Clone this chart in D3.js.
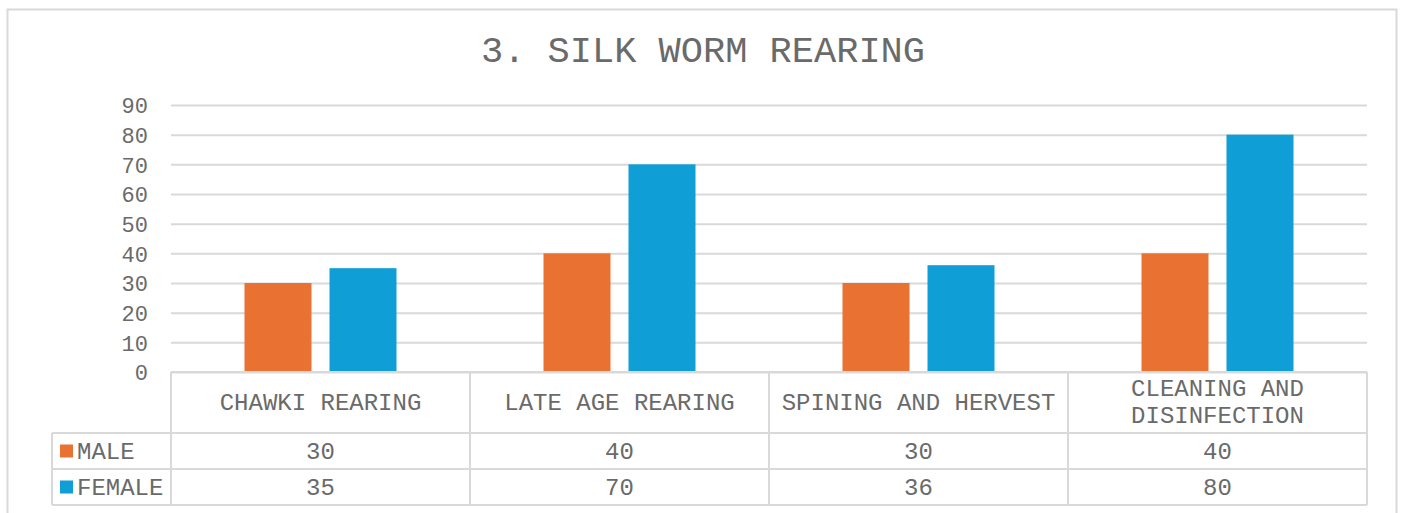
<!DOCTYPE html>
<html>
<head>
<meta charset="utf-8">
<script src="https://cdn.jsdelivr.net/npm/d3@7"></script>
<style>
  html, body { margin: 0; padding: 0; background: #fff; }
  svg { display: block; }
  text { font-family: "Courier New", "Nimbus Mono PS", "FreeMono", "Liberation Mono", monospace; fill: #6a6a6a; }
</style>
</head>
<body>
<svg id="chart" width="1401" height="513"></svg>
<script>
// Chart data
const title = "3. SILK WORM REARING";
const categories = ["CHAWKI REARING", "LATE AGE REARING", "SPINING AND HERVEST", "CLEANING AND DISINFECTION"];
const categoryLines = [["CHAWKI REARING"], ["LATE AGE REARING"], ["SPINING AND HERVEST"], ["CLEANING AND", "DISINFECTION"]];
const seriesNames = ["MALE", "FEMALE"];
const maleValues = [30, 40, 30, 40];
const femaleValues = [35, 70, 36, 80];
const yTicks = [0, 10, 20, 30, 40, 50, 60, 70, 80, 90];
const colors = ["#E97132", "#0F9ED5"];

const seriesValues = [maleValues, femaleValues];
const svg = d3.select("#chart");
const gridColor = "#d9d9d9";
const fontStack = "'Courier New', 'Nimbus Mono PS', 'FreeMono', 'Liberation Mono', monospace";

// Outer chart frame
svg.append("rect")
  .attr("x", 7.5).attr("y", 9.5).attr("width", 1389).attr("height", 520)
  .attr("fill", "#fff").attr("stroke", "#d9d9d9").attr("stroke-width", 2);

svg.append("text")
  .attr("x", 703).attr("y", 62)
  .attr("text-anchor", "middle")
  .style("font-size", "37px")
  .text(title);

// Scales
const plot = { left: 171, right: 1367, top: 105, bottom: 372 };
const y = d3.scaleLinear().domain([0, 90]).range([plot.bottom, plot.top]);
const x0 = d3.scaleBand().domain(categories).range([plot.left, plot.right]).padding(0);
const x1 = d3.scaleBand().domain(seriesNames).range([0, x0.bandwidth()])
  .paddingInner(0.2118).paddingOuter(0.8647);

// Gridlines and y tick labels
const yAxis = d3.axisLeft(y).tickValues(yTicks).tickSize(-(plot.right - plot.left)).tickPadding(23);
const gy = svg.append("g").attr("transform", `translate(${plot.left},0)`).call(yAxis);
gy.select(".domain").remove();
gy.selectAll(".tick line").attr("stroke", gridColor).attr("stroke-width", 2);
gy.selectAll(".tick text")
  .style("font-family", fontStack)
  .style("font-size", "22px").attr("fill", "#6a6a6a").attr("dy", "0.35em");

// Bars
const groups = svg.append("g").selectAll("g")
  .data(categories).join("g")
  .attr("transform", d => `translate(${x0(d)},0)`);
groups.selectAll("rect")
  .data((d, i) => seriesNames.map((s, j) => ({ s, v: seriesValues[j][i], c: colors[j] })))
  .join("rect")
  .attr("x", d => x1(d.s))
  .attr("width", x1.bandwidth())
  .attr("y", d => y(d.v))
  .attr("height", d => y(0) - y(d.v))
  .attr("fill", d => d.c);

// Data table beneath the axis
const headerBottom = 433, row1Bottom = 469, row2Bottom = 505, legendLeft = 52;
const table = svg.append("g").attr("stroke", gridColor).attr("stroke-width", 2).attr("fill", "none");
table.append("line").attr("x1", plot.left).attr("x2", plot.right).attr("y1", plot.bottom).attr("y2", plot.bottom);
[headerBottom, row1Bottom, row2Bottom].forEach(yy =>
  table.append("line").attr("x1", legendLeft).attr("x2", plot.right).attr("y1", yy).attr("y2", yy));
table.append("line").attr("x1", legendLeft).attr("x2", legendLeft).attr("y1", headerBottom).attr("y2", row2Bottom);
categories.concat([null]).forEach(c => {
  const xx = c === null ? plot.right : x0(c);
  table.append("line").attr("x1", xx).attr("x2", xx).attr("y1", plot.bottom).attr("y2", row2Bottom);
});

// Category headers
categories.forEach((c, i) => {
  const lines = categoryLines[i];
  const cx = x0(c) + x0.bandwidth() / 2;
  const cy = 401.5;
  const lh = 27;
  lines.forEach((ln, k) => {
    svg.append("text")
      .attr("x", cx).attr("y", cy + (k - (lines.length - 1) / 2) * lh)
      .attr("dy", "0.35em").attr("text-anchor", "middle")
      .style("font-size", "24px").text(ln);
  });
});

// Series rows: legend key, name, values
const rowMids = [(headerBottom + row1Bottom) / 2, (row1Bottom + row2Bottom) / 2];
seriesNames.forEach((s, j) => {
  svg.append("rect").attr("x", 60).attr("y", rowMids[j] - 6.5).attr("width", 13).attr("height", 13).attr("fill", colors[j]);
  svg.append("text").attr("x", 77).attr("y", rowMids[j]).attr("dy", "0.35em")
    .style("font-size", "24px").text(s);
  categories.forEach((c, i) => {
    svg.append("text")
      .attr("x", x0(c) + x0.bandwidth() / 2).attr("y", rowMids[j]).attr("dy", "0.35em")
      .attr("text-anchor", "middle").style("font-size", "24px")
      .text(seriesValues[j][i]);
  });
});
</script>
</body>
</html>
